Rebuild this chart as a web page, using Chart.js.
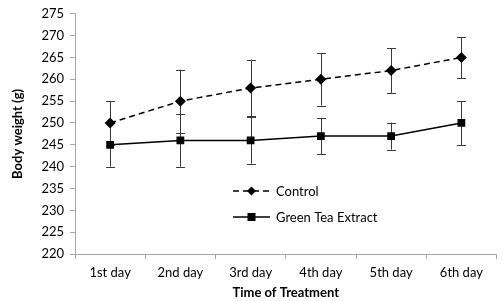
<!DOCTYPE html>
<html>
<head>
<meta charset="utf-8">
<script src="https://cdn.jsdelivr.net/npm/chart.js@4"></script>
<style>
  html, body { margin: 0; padding: 0; background: #fff; }
  #wrap { width: 502px; height: 301px; }
</style>
</head>
<body>
<div id="wrap"><canvas id="chart"></canvas></div>
<script>
const days = ['1st day', '2nd day', '3rd day', '4th day', '5th day', '6th day'];
const control = [250, 255, 258, 260, 262, 265];
const controlErr = [5, 7.2, 6.5, 6, 5.1, 4.7];
const greenTea = [245, 246, 246, 247, 247, 250];
const greenTeaErr = [5, 6, 5.3, 4.2, 3.1, 5];
const yTicks = [220, 225, 230, 235, 240, 245, 250, 255, 260, 265, 270, 275];

const errs = [controlErr, greenTeaErr];
const fontName = 'Lato, "Open Sans", sans-serif';

// draws the error bars before the lines
const errorBars = {
    id: 'errorBars',
    beforeDatasetsDraw(chart) {
        const ctx = chart.ctx;
        const x = chart.scales.x, y = chart.scales.y;
        ctx.save();
        ctx.strokeStyle = '#3a3a3a';
        ctx.lineWidth = 1;
        chart.data.datasets.forEach((ds, i) => {
            ds.data.forEach((v, j) => {
                const px = Math.round(x.getPixelForValue(j)) + 0.5;
                const top = y.getPixelForValue(v + errs[i][j]);
                const bot = y.getPixelForValue(v - errs[i][j]);
                ctx.beginPath();
                ctx.moveTo(px, top); ctx.lineTo(px, bot);
                ctx.moveTo(px - 4.5, Math.round(top) + 0.5); ctx.lineTo(px + 4.5, Math.round(top) + 0.5);
                ctx.moveTo(px - 4.5, Math.round(bot) + 0.5); ctx.lineTo(px + 4.5, Math.round(bot) + 0.5);
                ctx.stroke();
            });
        });
        ctx.restore();
    }
};

// legend sits inside the plot area
const innerLegend = {
    id: 'innerLegend',
    afterDraw(chart) {
        const ctx = chart.ctx;
        ctx.save();
        ctx.font = '13px ' + fontName;
        ctx.textBaseline = 'middle';
        ctx.fillStyle = '#000';
        chart.data.datasets.forEach((ds, i) => {
            const yy = 191 + i * 26;
            ctx.strokeStyle = '#000';
            ctx.lineWidth = 1.5;
            ctx.setLineDash(ds.borderDash || []);
            ctx.beginPath();
            ctx.moveTo(233, yy); ctx.lineTo(270, yy);
            ctx.stroke();
            ctx.setLineDash([]);
            if (ds.pointStyle === 'rect') {
                ctx.fillRect(251.5 - 4, yy - 4, 8, 8);
            } else {
                ctx.beginPath();
                ctx.moveTo(251.5, yy - 4.5); ctx.lineTo(256, yy);
                ctx.lineTo(251.5, yy + 4.5); ctx.lineTo(247, yy);
                ctx.closePath(); ctx.fill();
            }
            ctx.fillText(ds.label, 276, yy + 1);
        });
        ctx.restore();
    }
};

new Chart(document.getElementById('chart'), {
    type: 'line',
    data: {
        labels: days,
        datasets: [
            {
                label: 'Control',
                data: control,
                borderColor: '#000',
                backgroundColor: '#000',
                borderWidth: 1.5,
                borderDash: [6, 4],
                pointStyle: 'rectRot',
                pointRadius: 5.5,
                pointBorderWidth: 0
            },
            {
                label: 'Green Tea Extract',
                data: greenTea,
                borderColor: '#000',
                backgroundColor: '#000',
                borderWidth: 1.5,
                pointStyle: 'rect',
                pointRadius: 5.5,
                pointBorderWidth: 0
            }
        ]
    },
    options: {
        responsive: true,
        maintainAspectRatio: false,
        animation: false,
        layout: { padding: { top: 12, right: 1, left: 10, bottom: 0 } },
        plugins: {
            legend: { display: false },
            tooltip: { enabled: false }
        },
        scales: {
            x: {
                offset: true,
                grid: { offset: true, drawOnChartArea: false, color: '#a6a6a6', tickLength: 5 },
                border: { color: '#a6a6a6' },
                ticks: { color: '#000', font: { family: fontName, size: 13 }, padding: 6 },
                title: { display: true, text: 'Time of Treatment', color: '#000', font: { family: fontName, size: 13, weight: 'bold' }, padding: { top: 6, bottom: 0 } },
                afterFit(s) { s.height = 47; }
            },
            y: {
                min: 220,
                max: 275,
                afterBuildTicks(s) { s.ticks = yTicks.map(v => ({ value: v })); },
                grid: { drawOnChartArea: false, color: '#a6a6a6', tickLength: 5 },
                border: { color: '#a6a6a6' },
                ticks: { color: '#000', font: { family: fontName, size: 13 }, padding: 6 },
                title: { display: true, text: 'Body weight (g)', color: '#000', font: { family: fontName, size: 13, weight: 'bold' }, padding: { top: 0, bottom: 8 } },
                afterFit(s) { s.width = 65; }
            }
        }
    },
    plugins: [errorBars, innerLegend]
});
</script>
</body>
</html>
